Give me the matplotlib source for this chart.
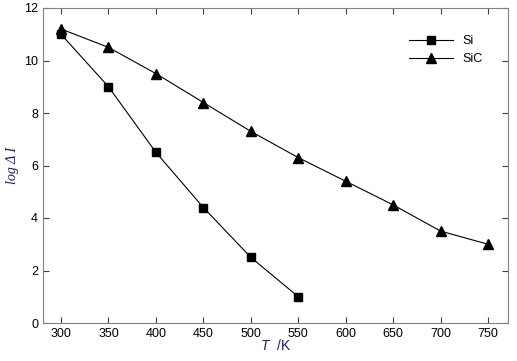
import matplotlib
matplotlib.use("Agg")
import matplotlib.pyplot as plt

plt.rcParams['font.family'] = ['Liberation Sans', 'DejaVu Sans']
plt.rcParams['mathtext.fontset'] = 'custom'
plt.rcParams['mathtext.it'] = 'Liberation Sans:italic'
plt.rcParams['mathtext.rm'] = 'Liberation Sans'

si_T = [300, 350, 400, 450, 500, 550]
si_log = [11.0, 9.0, 6.5, 4.4, 2.5, 1.0]
sic_T = [300, 350, 400, 450, 500, 550, 600, 650, 700, 750]
sic_log = [11.2, 10.5, 9.5, 8.4, 7.3, 6.3, 5.4, 4.5, 3.5, 3.0]
xticks = [300, 350, 400, 450, 500, 550, 600, 650, 700, 750]
yticks = [0, 2, 4, 6, 8, 10, 12]

fig = plt.figure(figsize=(5.17, 3.61), dpi=100)
ax = fig.add_axes([43/517, 1-323/361, 465/517, 315/361])
ax.plot(si_T, si_log, '-s', color='black', lw=0.8, ms=6, label='Si')
ax.plot(sic_T, sic_log, '-^', color='black', lw=0.8, ms=7, label='SiC')
ax.set_xlim(281, 771)
ax.set_ylim(0, 12)
ax.set_xticks(xticks)
ax.set_yticks(yticks)
for s in ax.spines.values():
    s.set_color('#808080')
ax.tick_params(direction='in', top=True, right=True, length=4, color='#404040', labelsize=9)
ax.set_xlabel(r'$T$  /K', fontsize=10, color='#1f1f5f', labelpad=-1)
ax.set_ylabel('log \u0394 I', fontsize=10, color='#1f1f5f',
              family=['Liberation Serif', 'DejaVu Serif'], style='italic')
ax.yaxis.set_label_coords(-0.052, 0.5)
leg = ax.legend(loc='upper right', frameon=False, fontsize=9, handlelength=3.5, bbox_to_anchor=(0.97, 0.95))
fig.savefig('out.png', dpi=100)
